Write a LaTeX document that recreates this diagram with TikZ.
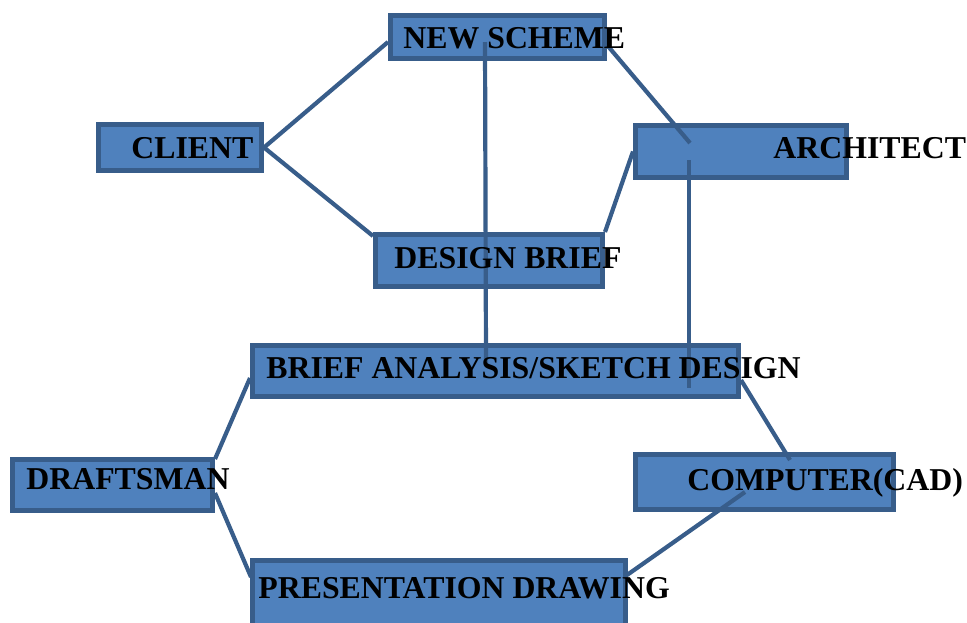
\documentclass[tikz,border=0pt]{standalone}
\usepackage{fontspec}
\setmainfont{Liberation Serif}
\definecolor{boxfill}{HTML}{4F81BD}
\definecolor{boxline}{HTML}{385D8A}
\tikzset{
	box/.style={draw=boxline,fill=boxfill,line width=2.5pt,inner sep=0pt},
	lbl/.style={anchor=base west,inner sep=0pt,font=\fontsize{15.9}{19}\selectfont\bfseries},
	link/.style={draw=boxline,line width=2.1pt}
}
\begin{document}
\begin{tikzpicture}[x=.5pt,y=-.5pt]
		\useasboundingbox (0,0) rectangle (967,622);
		\clip (0,0) rectangle (967,622);
		% boxes
		\foreach \n/\x/\y/\w/\h in {news/497.5/37/214/43,client/180/147.5/163/46,arch/741/151.5/211/52,brief/489/260.5/227/52,sketch/495.5/371/486/51,draft/112.5/485/200/51,cad/764.5/482/258/55,pres/439/595/373/69}{
			\node[box,minimum width=\w*.5pt,minimum height=\h*.5pt] (\n) at (\x,\y) {};
			}
		\path (485,42) coordinate (news-a)
		(486,363) coordinate (sketch-a)
		(690,143) coordinate (arch-a)
		(689,160) coordinate (arch-b)
		(689,388) coordinate (sketch-b)
		(790,460) coordinate (cad-a)
		(745,492) coordinate (cad-b)
		(251,577) coordinate (pres-a)
		(627,575) coordinate (pres-b);
		% links
		\draw[link] (client.east) -- ([yshift=-2.5pt]news.west);
		\draw[link] (client.east) -- ([yshift=-2pt]brief.north west);
		\draw[link] (news-a) -- (sketch-a);
		\draw[link] ([yshift=-4pt]news.east) -- (arch-a);
		\draw[link] (arch-b) -- (sketch-b);
		\draw[link] (brief.north east) -- (arch.west);
		\draw[link] ([yshift=-3.5pt]sketch.west) -- ([yshift=-1pt]draft.north east);
		\draw[link] ([yshift=-4pt]draft.east) -- (pres-a);
		\draw[link] ([yshift=-4.5pt]sketch.east) -- (cad-a);
		\draw[link] (cad-b) -- (pres-b);
		% labels
		\foreach \n/\x/\y/\t in {news/403/48/{NEW SCHEME},client/131/158/{CLIENT},arch/773/158/{ARCHITECT},brief/394/268/{DESIGN BRIEF},sketch/266/378/{BRIEF ANALYSIS/SKETCH DESIGN},draft/26/489/{DRAFTSMAN},cad/687/490/{COMPUTER(CAD)},pres/258/598/{PRESENTATION DRAWING}}{
			\node[lbl] (\n-t) at (\x,\y) {\t};
			}
		\end{tikzpicture}
\end{document}
